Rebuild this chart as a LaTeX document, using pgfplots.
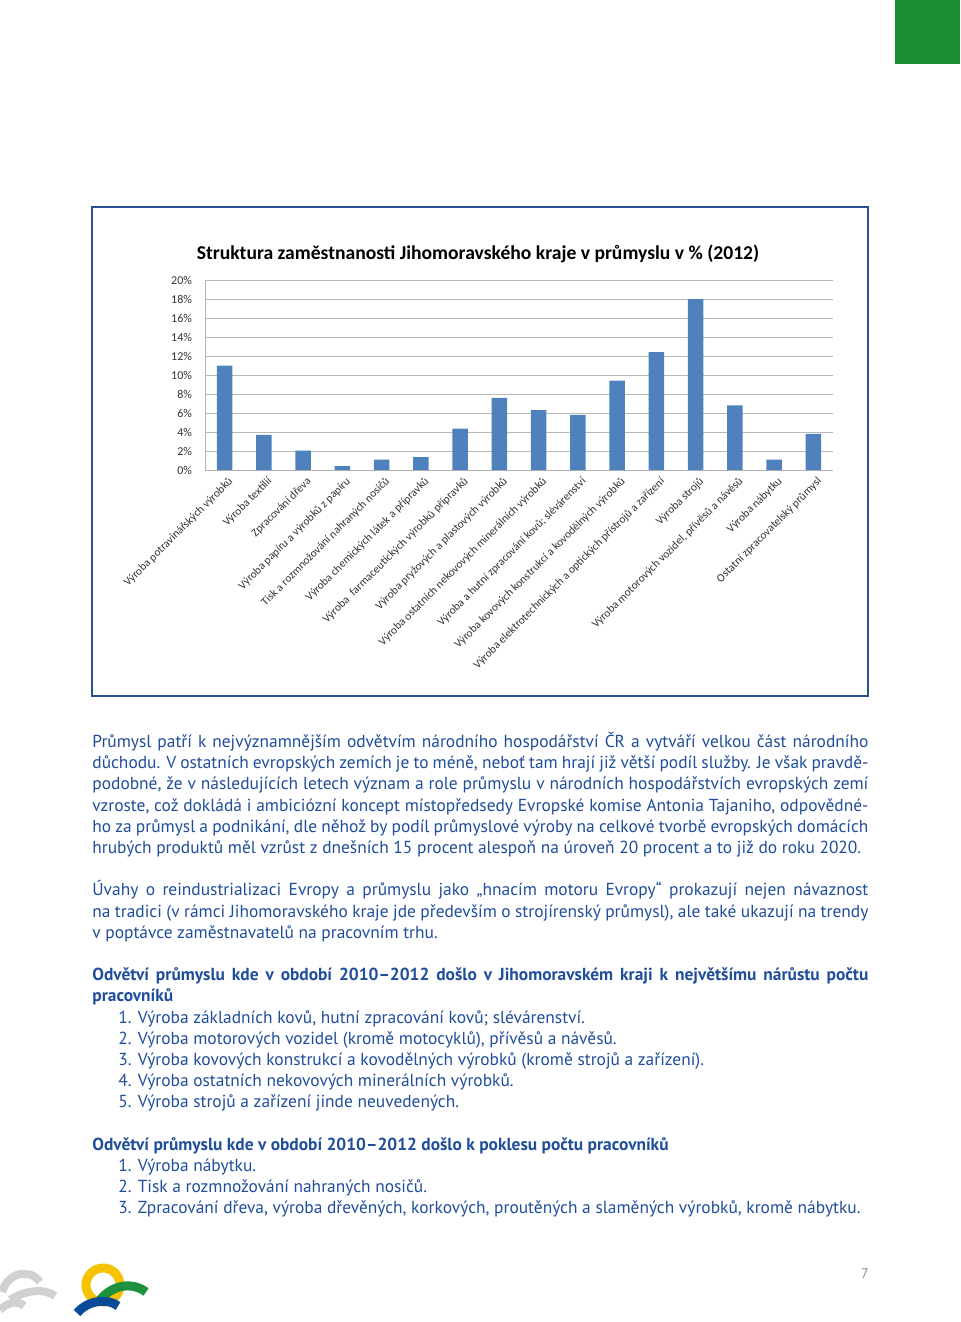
\documentclass[border=0pt]{standalone}
\usepackage{pgfplots}
\pgfplotsset{compat=1.18}
\usepackage{fontspec}
\setmainfont{PT Sans}
\newfontfamily\calibri{Carlito}

\definecolor{barblue}{RGB}{79,129,189}
\definecolor{txtblue}{RGB}{32,78,155}
\definecolor{framecol}{RGB}{40,80,140}
\definecolor{pagegreen}{RGB}{28,140,50}
\definecolor{logoyellow}{RGB}{245,195,0}
\definecolor{logogreen}{RGB}{30,145,60}
\definecolor{logoblue}{RGB}{10,75,150}

\begin{document}
\begin{tikzpicture}
\useasboundingbox (0,0) rectangle (480pt,-661pt);
\fill[white] (0,0) rectangle (480pt,-661pt);

\begin{scope}[x=0.5pt,y=-0.5pt]
  % green corner block
  \fill[pagegreen] (895,0) rectangle (960,64);
  % chart frame
  \draw[framecol, line width=1pt] (92,207) rectangle (868,696);
  % chart title
  \node[font=\calibri\bfseries\fontsize{9.8}{11}\selectfont] at (478,254)
    {Struktura zaměstnanosti Jihomoravského kraje v průmyslu v \% (2012)};
\end{scope}

\begin{axis}[
  at={(102.5pt,-235pt)}, anchor=south west,
  scale only axis, width=314pt, height=95pt,
  ybar, bar width=7.85pt,
  xmin=-0.5, xmax=15.5, ymin=0, ymax=20,
  xtick={0,...,15},
  xticklabels={
    Výroba potravinářských výrobků,
    Výroba textilií,
    Zpracování dřeva,
    Výroba papíru a výrobků z papíru,
    Tisk a rozmnožování nahraných nosičů,
    Výroba chemických látek a přípravků,
    Výroba\ \ farmaceutických výrobků přípravků,
    Výroba pryžových a plastových výrobků,
    Výroba ostatních nekovových minerálních výrobků,
    Výroba a hutní zpracování kovů; slévárenství,
    Výroba kovových konstrukcí a kovodělných výrobků,
    Výroba elektrotechnických a optických přístrojů a zařízení,
    Výroba strojů,
    {Výroba motorových vozidel, přívěsů a návěsů},
    Výroba nábytku,
    Ostatní zpracovatelský průmysl},
  ytick={0,2,...,20},
  yticklabels={0\%,2\%,4\%,6\%,8\%,10\%,12\%,14\%,16\%,18\%,20\%},
  x tick label style={rotate=45, anchor=north east, inner sep=1pt, yshift=-2pt,
    font=\calibri\fontsize{5.7}{6.5}\selectfont},
  y tick label style={xshift=-3pt, font=\calibri\fontsize{6}{7}\selectfont},
  tick label style={text=black!80},
  major tick length=0pt,
  ymajorgrids, grid style={black!28, line width=0.5pt},
  separate axis lines,
  axis x line*=bottom, axis y line*=left,
  axis line style={black!30, line width=0.5pt},
]
\addplot[fill=barblue, draw=none] coordinates {
  (0,11.0) (1,3.7) (2,2.05) (3,0.4) (4,1.1) (5,1.35) (6,4.35) (7,7.6)
  (8,6.3) (9,5.8) (10,9.4) (11,12.4) (12,18.0) (13,6.8) (14,1.1) (15,3.8)};
\end{axis}

\begin{scope}[x=0.5pt,y=-0.5pt]
  \node[anchor=north west, inner sep=0pt, text width=388pt, align=justify,
        font=\fontsize{8.7}{10.6}\selectfont, text=txtblue] at (92,732) {%
\hyphenpenalty=10000 \exhyphenpenalty=10000
Průmysl patří k nejvýznamnějším odvětvím národního hospodářství ČR a vytváří velkou část národního\linebreak
důchodu. V ostatních evropských zemích je to méně, neboť tam hrají již větší podíl služby. Je však pravdě-\linebreak
podobné, že v následujících letech význam a role průmyslu v národních hospodářstvích evropských zemí\linebreak
vzroste, což dokládá i ambiciózní koncept místopředsedy Evropské komise Antonia Tajaniho, odpovědné-\linebreak
ho za průmysl a podnikání, dle něhož by podíl průmyslové výroby na celkové tvorbě evropských domácích\linebreak
hrubých produktů měl vzrůst z dnešních 15 procent alespoň na úroveň 20 procent a to již do roku 2020.\par
\vspace{10.6pt}
Úvahy o reindustrializaci Evropy a průmyslu jako „hnacím motoru Evropy“ prokazují nejen návaznost\linebreak
na tradici (v rámci Jihomoravského kraje jde především o strojírenský průmysl), ale také ukazují na trendy\linebreak
v poptávce zaměstnavatelů na pracovním trhu.\par
\vspace{10.6pt}
{\bfseries Odvětví průmyslu kde v období 2010–2012 došlo v Jihomoravském kraji k největšímu nárůstu počtu\linebreak
pracovníků}\par
\hspace*{13pt}1. Výroba základních kovů, hutní zpracování kovů; slévárenství.\par
\hspace*{13pt}2. Výroba motorových vozidel (kromě motocyklů), přívěsů a návěsů.\par
\hspace*{13pt}3. Výroba kovových konstrukcí a kovodělných výrobků (kromě strojů a zařízení).\par
\hspace*{13pt}4. Výroba ostatních nekovových minerálních výrobků.\par
\hspace*{13pt}5. Výroba strojů a zařízení jinde neuvedených.\par
\vspace{10.6pt}
{\bfseries Odvětví průmyslu kde v období 2010–2012 došlo k poklesu počtu pracovníků}\par
\hspace*{13pt}1. Výroba nábytku.\par
\hspace*{13pt}2. Tisk a rozmnožování nahraných nosičů.\par
\hspace*{13pt}3. Zpracování dřeva, výroba dřevěných, korkových, proutěných a slaměných výrobků, kromě nábytku.\par
};
  % page number
  \node[text=black!45, font=\fontsize{7}{8}\selectfont] at (865,1274) {7};
  % logo (grey part)
  \draw[black!18, line width=4pt] (2,1292) .. controls (8,1272) and (30,1268) .. (40,1282);
  \draw[black!18, line width=4pt] (10,1300) .. controls (25,1290) and (45,1288) .. (55,1296);
  \draw[black!18, line width=4pt] (0,1310) .. controls (8,1302) and (18,1300) .. (24,1306);
  % logo (colour part)
  \draw[logoyellow, line width=4.5pt] (103,1285) circle[radius=17];
  \draw[logogreen, line width=4.5pt] (100,1300) .. controls (113,1284) and (133,1282) .. (146,1292);
  \draw[logoblue, line width=4.5pt] (77,1313) .. controls (88,1300) and (108,1298) .. (118,1306);
\end{scope}
\end{tikzpicture}
\end{document}
